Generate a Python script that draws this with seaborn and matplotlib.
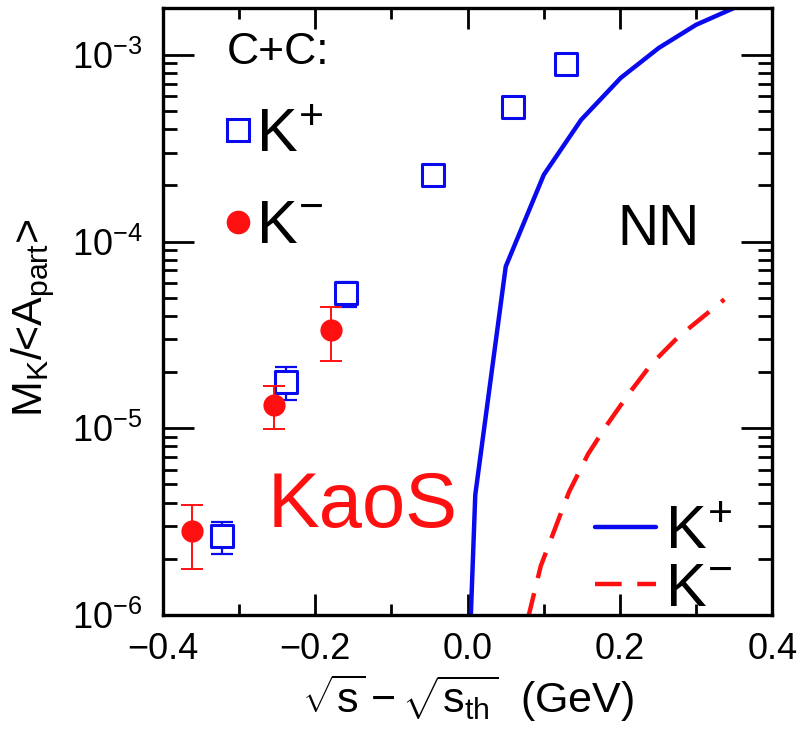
import matplotlib
matplotlib.use("Agg")
import matplotlib.pyplot as plt
import seaborn as sns
from matplotlib.lines import Line2D
from matplotlib.ticker import LogLocator, MultipleLocator, NullFormatter

# C+C data points (KaoS)
kp_x = [-0.322, -0.239, -0.160, -0.046, 0.059, 0.129]
kp_y = [2.64e-6, 1.76e-5, 5.33e-5, 2.28e-4, 5.27e-4, 8.95e-4]
kp_lo = [2.12e-6, 1.41e-5, 4.44e-5, 1.98e-4, 5.0e-4, 8.6e-4]
kp_hi = [3.14e-6, 2.12e-5, 6.11e-5, 2.5e-4, 5.5e-4, 9.3e-4]

km_x = [-0.362, -0.254, -0.180]
km_y = [2.81e-6, 1.34e-5, 3.34e-5]
km_lo = [1.76e-6, 9.88e-6, 2.28e-5]
km_hi = [3.87e-6, 1.68e-5, 4.44e-5]

# NN curves
nn_kp_x = [0.004, 0.010, 0.050, 0.100, 0.149, 0.201, 0.251, 0.300, 0.352]
nn_kp_y = [9.5e-7, 4.4e-6, 7.35e-5, 2.28e-4, 4.49e-4, 7.53e-4, 1.09e-3, 1.45e-3, 1.8e-3]
nn_km_x = [0.079, 0.096, 0.113, 0.133, 0.158, 0.182, 0.211, 0.241, 0.276, 0.337]
nn_km_y = [9.5e-7, 1.83e-6, 2.78e-6, 4.55e-6, 7.26e-6, 1.03e-5, 1.52e-5, 2.20e-5, 3.07e-5, 4.9e-5]

BLUE = "#0a0aee"
RED = "#ff1010"
KP = r"$\mathregular{K^{\!+}}$"
KM = r"$\mathregular{K^{\!-}}$"

sns.set_style("ticks", {"text.color": "black", "axes.labelcolor": "black",
                        "xtick.color": "black", "ytick.color": "black"})
plt.rcParams["font.family"] = ["Liberation Sans", "DejaVu Sans"]
plt.rcParams["mathtext.fontset"] = "custom"
plt.rcParams["mathtext.rm"] = "Liberation Sans"
plt.rcParams["mathtext.it"] = "Liberation Sans"
plt.rcParams["mathtext.bf"] = "Liberation Sans"
plt.rcParams["axes.unicode_minus"] = True

fig = plt.figure(figsize=(8.07, 7.40), dpi=100)
ax = fig.add_axes([0.202, 0.169, 0.755, 0.820])

# NN curves
sns.lineplot(x=nn_kp_x, y=nn_kp_y, ax=ax, color=BLUE, lw=3.2, sort=False)
sns.lineplot(x=nn_km_x, y=nn_km_y, ax=ax, color=RED, lw=3.2, sort=False,
             linestyle=(0, (6, 3.5)))

# data with error bars
ax.errorbar(kp_x, kp_y,
            yerr=[[v - l for v, l in zip(kp_y, kp_lo)], [h - v for v, h in zip(kp_y, kp_hi)]],
            fmt="none", ecolor=BLUE, elinewidth=1.6, capsize=8, capthick=1.6)
sns.scatterplot(x=kp_x, y=kp_y, ax=ax, marker="s", s=16 ** 2,
                facecolor="white", edgecolor=BLUE, linewidth=2.2, zorder=3)
ax.errorbar(km_x, km_y,
            yerr=[[v - l for v, l in zip(km_y, km_lo)], [h - v for v, h in zip(km_y, km_hi)]],
            fmt="none", ecolor=RED, elinewidth=1.4, capsize=8, capthick=1.4, zorder=4)
sns.scatterplot(x=km_x, y=km_y, ax=ax, marker="o", s=16 ** 2,
                color=RED, edgecolor=RED, linewidth=0, zorder=5)

ax.set_yscale("log")
ax.set_xlim(-0.4, 0.4)
ax.set_ylim(1e-6, 1.78e-3)
ax.xaxis.set_major_locator(MultipleLocator(0.2))
ax.xaxis.set_minor_locator(MultipleLocator(0.1))
ax.xaxis.set_major_formatter(plt.FuncFormatter(lambda v, p: f"{v:.1f}".replace("-", "\u2212")))
ax.yaxis.set_major_locator(LogLocator(base=10))
ax.yaxis.set_minor_locator(LogLocator(base=10, subs=range(2, 10)))
ax.yaxis.set_minor_formatter(NullFormatter())

ax.tick_params(which="both", direction="in", top=True, right=True, width=2, colors="black")
ax.tick_params(axis="x", which="major", length=15, pad=12, labelsize=26)
ax.tick_params(axis="x", which="minor", length=8)
ax.tick_params(axis="y", which="major", length=22, pad=15, labelsize=26)
ax.tick_params(axis="y", which="minor", length=10)
for sp in ax.spines.values():
    sp.set_linewidth(2.4)
    sp.set_color("black")

ax.set_xlabel(r"$\sqrt{\mathregular{s}}-\sqrt{\mathregular{s}_\mathregular{th}}$  (GeV)",
              fontsize=31, labelpad=4)
ax.set_ylabel(r"M$_\mathregular{K}$/<A$_\mathregular{part}$>", fontsize=31)
ax.yaxis.set_label_coords(-0.174, 0.49)

# C+C legend
h1 = [Line2D([], [], ls="none", marker="s", ms=16, mfc="white", mec=BLUE, mew=2.2),
      Line2D([], [], ls="none", marker="o", ms=16, mfc=RED, mec=RED)]
leg1 = ax.legend(h1, [KP, KM], title="C+C:",
                 loc="upper left", bbox_to_anchor=(0.085, 0.98), frameon=False,
                 fontsize=44, title_fontsize=32, handlelength=0.35, handletextpad=0.12,
                 borderpad=0.2, borderaxespad=0, labelspacing=0.56, alignment="left")
ax.add_artist(leg1)

# NN legend
h2 = [Line2D([], [], color=BLUE, lw=3.2),
      Line2D([], [], color=RED, lw=3.2, ls=(0, (6, 3.5)))]
ax.legend(h2, [KP, KM], loc="lower left",
          bbox_to_anchor=(0.709, -0.006), frameon=False, fontsize=44, handlelength=1.0,
          handletextpad=0.15, borderpad=0, borderaxespad=0, labelspacing=0.0)

ax.text(0.745, 0.61, "NN", transform=ax.transAxes, fontsize=41, va="baseline")
ax.text(0.171, 0.145, "KaoS", transform=ax.transAxes, fontsize=56, color=RED, va="baseline")

fig.savefig("out.png", dpi=100)
